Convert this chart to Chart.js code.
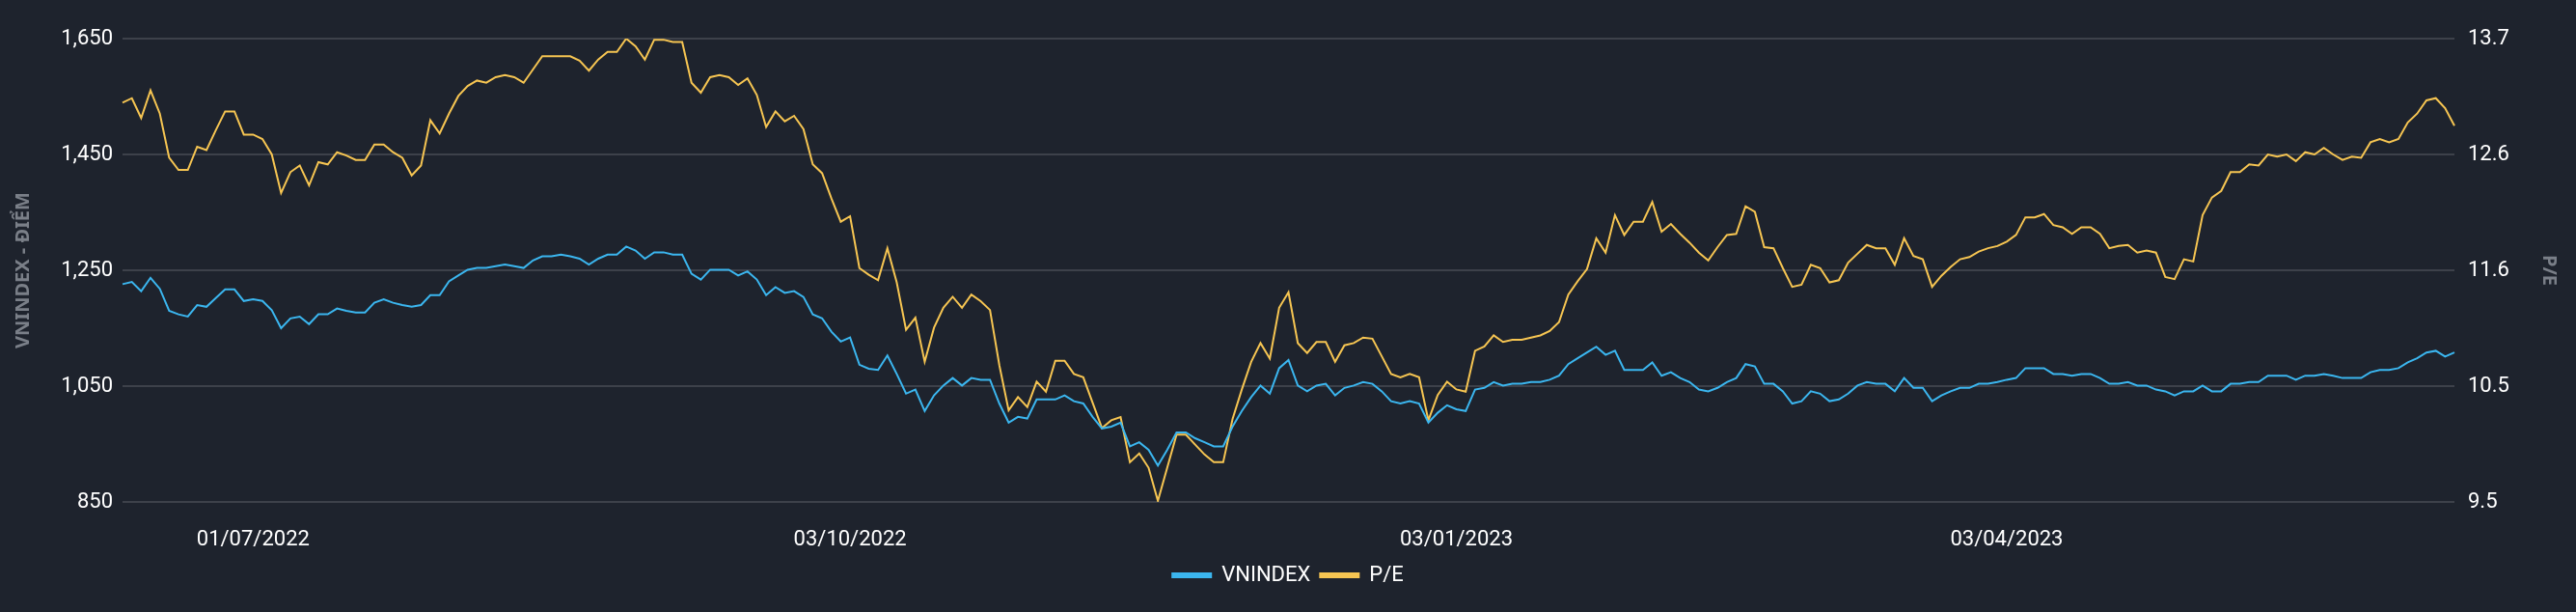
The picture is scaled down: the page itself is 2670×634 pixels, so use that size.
<!DOCTYPE html>
<html><head><meta charset="utf-8">
<script src="https://cdn.jsdelivr.net/npm/chart.js@4.4.0/dist/chart.umd.min.js"></script>
<style>html,body{margin:0;padding:0;background:#1e232d;}#w{width:2670px;height:634px;}</style>
</head><body><div id="w"><canvas id="c"></canvas></div>
<script>
const startDate = "2022-06-13";
const holidays = ["2022-09-01","2022-09-02","2023-01-02","2023-01-20","2023-01-23","2023-01-24","2023-01-25","2023-01-26","2023-05-01","2023-05-02"];
const tickLabels = ["01/07/2022","03/10/2022","03/01/2023","03/04/2023"];
const leftTicks = [850,1050,1250,1450,1650];
const rightTickLabels = ["9.5","10.5","11.6","12.6","13.7"];
const vnindex = [1226,1230,1214,1237,1218,1180,1174,1170,1190,1187,1202,1217,1217,1197,1200,1197,1181,1150,1167,1170,1157,1174,1174,1184,1180,1177,1177,1194,1200,1194,1190,1187,1190,1207,1207,1231,1241,1251,1254,1254,1257,1260,1257,1254,1267,1274,1274,1277,1274,1270,1260,1270,1277,1277,1291,1284,1270,1281,1281,1277,1277,1244,1234,1251,1251,1251,1241,1248,1234,1207,1221,1211,1214,1204,1174,1167,1144,1127,1134,1087,1080,
1078,1103,1071,1037,1044,1007,1034,1051,1064,1051,1064,1061,1061,1020,987,997,994,1027,1027,1027,1034,1024,1020,997,977,980,987,946,953,940,913,940,970,970,960,953,946,946,980,1007,1031,1051,1037,1081,1095,1051,1041,1051,1054,1034,1047,1051,1057,1054,1041,1024,1020,1024,1020,987,1004,1017,1010,1007,1044,1047,1057,1051,1054,1054,1057,1057,1061,1068,1088,1098,1108,1118,1104,1111,1078,1078,1078,1091,1068,1074,1064,1057,1044,1041,1047,1057,1064,
1088,1084,1054,1054,1041,1020,1024,1041,1037,1024,1027,1037,1051,1057,1054,1054,1041,1064,1047,1047,1024,1034,1041,1047,1047,1054,1054,1057,1061,1064,1081,1081,1081,1071,1071,1068,1071,1071,1064,1054,1054,1057,1051,1051,1044,1041,1034,1041,1041,1051,1041,1041,1054,1054,1057,1057,1068,1068,1068,1061,1068,1068,1071,1068,1064,1064,1064,1074,1078,1078,1081,1091,1098,1108,1111,1101,1108];
const pe = [13.12,13.16,12.98,13.23,13.02,12.62,12.51,12.51,12.72,12.69,12.87,13.04,13.04,12.83,12.83,12.79,12.65,12.30,12.49,12.55,12.37,12.58,12.56,12.67,12.64,12.60,12.60,12.74,12.74,12.67,12.62,12.46,12.55,12.96,12.84,13.02,13.18,13.27,13.32,13.30,13.35,13.37,13.35,13.30,13.42,13.54,13.54,13.54,13.54,13.50,13.41,13.51,13.58,13.58,13.70,13.63,13.51,13.69,13.69,13.67,13.67,13.30,13.21,13.35,13.37,13.35,13.28,13.34,13.19,12.90,13.04,12.95,13.00,12.88,12.56,12.48,12.25,12.04,12.09,11.62,11.56,
11.51,11.80,11.49,11.06,11.17,10.77,11.08,11.26,11.36,11.26,11.38,11.32,11.24,10.74,10.33,10.45,10.36,10.59,10.50,10.78,10.78,10.66,10.63,10.40,10.17,10.24,10.27,9.86,9.94,9.81,9.51,9.81,10.11,10.11,10.02,9.93,9.86,9.86,10.25,10.52,10.77,10.94,10.80,11.26,11.40,10.94,10.85,10.95,10.95,10.77,10.92,10.94,10.99,10.98,10.82,10.66,10.63,10.66,10.63,10.24,10.47,10.59,10.52,10.50,10.87,10.91,11.01,10.95,10.97,10.97,10.99,11.01,11.05,11.13,11.38,11.50,11.61,11.89,11.76,12.10,11.92,12.04,12.04,12.22,11.95,12.02,11.93,11.85,11.76,11.69,11.81,11.92,11.93,
12.18,12.13,11.81,11.80,11.62,11.45,11.47,11.65,11.62,11.49,11.51,11.67,11.75,11.83,11.80,11.80,11.65,11.89,11.73,11.70,11.45,11.55,11.63,11.70,11.72,11.77,11.80,11.82,11.86,11.92,12.08,12.08,12.11,12.01,11.99,11.93,11.99,11.99,11.93,11.80,11.82,11.83,11.76,11.78,11.76,11.54,11.52,11.70,11.68,12.10,12.26,12.32,12.49,12.49,12.56,12.55,12.65,12.63,12.65,12.59,12.67,12.65,12.71,12.65,12.60,12.63,12.62,12.76,12.79,12.76,12.79,12.94,13.02,13.14,13.16,13.07,12.91];

const categories = [];
(function(){
  const d = new Date(startDate + "T00:00:00Z");
  const n = Math.max(vnindex.length, pe.length);
  while (categories.length < n) {
    const wd = d.getUTCDay();
    const iso = d.toISOString().slice(0,10);
    if (wd !== 0 && wd !== 6 && !holidays.includes(iso)) {
      const p = iso.split("-");
      categories.push(p[2] + "/" + p[1] + "/" + p[0]);
    }
    d.setUTCDate(d.getUTCDate() + 1);
  }
})();

const FONT = "'Liberation Sans Narrow','Roboto',sans-serif";
new Chart(document.getElementById('c'), {
  type: 'line',
  data: {
    labels: categories,
    datasets: [
      {label:'VNINDEX', data: vnindex, yAxisID:'y', borderColor:'#3bb6ef', backgroundColor:'#3bb6ef', borderWidth:2, pointRadius:0, tension:0},
      {label:'P/E', data: pe, yAxisID:'y1', borderColor:'#f6c552', backgroundColor:'#f6c552', borderWidth:2, pointRadius:0, tension:0}
    ]
  },
  options: {
    responsive:true, maintainAspectRatio:false, animation:false,
    layout:{padding:{top:40,bottom:17,left:0,right:0}},
    plugins:{
      legend:{position:'bottom', labels:{color:'#ffffff', font:{family:FONT,size:22}, usePointStyle:false, boxWidth:40, boxHeight:4, padding:10}},
      tooltip:{enabled:false}
    },
    scales:{
      x:{
        grid:{display:false}, border:{display:false},
        ticks:{autoSkip:false, maxRotation:0, color:'#ffffff', font:{family:FONT,size:22}, padding:18,
          callback:function(v,i){const l=categories[i]; return tickLabels.includes(l)?l:null;}},
        afterFit:function(s){s.height=55;}
      },
      y:{
        position:'left', min:850, max:1650,
        afterBuildTicks:function(s){s.ticks=leftTicks.map(v=>({value:v}));},
        ticks:{color:'#ffffff', font:{family:FONT,size:22}, padding:10, callback:v=>v.toLocaleString('en-US')},
        grid:{color:'#3d414a', lineWidth:2, drawTicks:false}, border:{display:false},
        title:{display:true, text:'VNINDEX - ĐIỂM', color:'#7a7f88', padding:{top:12,bottom:4}, font:{family:"'Noto Sans',sans-serif", size:20, weight:'bold'}},
        afterFit:function(s){s.width=127;}
      },
      y1:{
        position:'right', min:9.5, max:13.7,
        afterBuildTicks:function(s){s.ticks=[9.5,10.55,11.6,12.65,13.7].map(v=>({value:v}));},
        ticks:{color:'#ffffff', font:{family:FONT,size:22}, padding:14, callback:function(v,i){return rightTickLabels[i];}},
        grid:{display:false, drawTicks:false}, border:{display:false},
        title:{display:true, text:'P/E', color:'#7a7f88', padding:{top:16,bottom:4}, font:{family:"'Noto Sans',sans-serif", size:20, weight:'bold'}},
        afterFit:function(s){s.width=126;}
      }
    }
  }
});
</script></body></html>
